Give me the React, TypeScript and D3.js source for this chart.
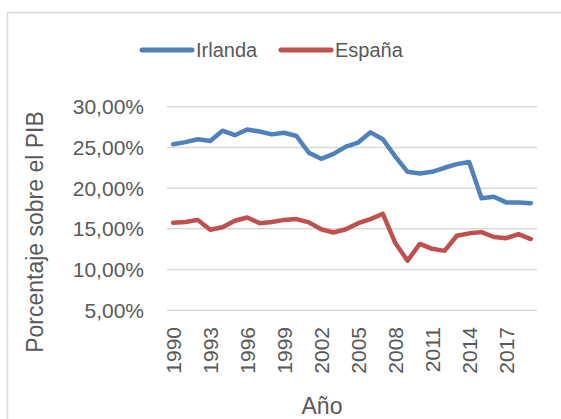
import React from 'react';
import { scaleBand, scaleLinear, line } from 'd3';

const years = [
  1990, 1991, 1992, 1993, 1994, 1995, 1996, 1997, 1998, 1999,
  2000, 2001, 2002, 2003, 2004, 2005, 2006, 2007, 2008, 2009,
  2010, 2011, 2012, 2013, 2014, 2015, 2016, 2017, 2018, 2019,
];
const irlanda = [
  25.4, 25.65, 26.0, 25.8, 27.05, 26.5, 27.2, 26.95, 26.6, 26.8,
  26.4, 24.35, 23.6, 24.2, 25.1, 25.6, 26.85, 26.0, 23.9, 22.0,
  21.8, 22.0, 22.5, 22.95, 23.2, 18.75, 18.95, 18.25, 18.25, 18.15,
];
const espana = [
  15.75, 15.85, 16.1, 14.9, 15.2, 16.0, 16.4, 15.7, 15.85, 16.1,
  16.2, 15.8, 14.95, 14.55, 14.95, 15.7, 16.2, 16.85, 13.3, 11.1,
  13.15, 12.55, 12.3, 14.15, 14.45, 14.6, 14.0, 13.85, 14.35, 13.75,
];
const yTicks = [5, 10, 15, 20, 25, 30];
const xTickYears = [1990, 1993, 1996, 1999, 2002, 2005, 2008, 2011, 2014, 2017];

const series = [
  { name: 'Irlanda', values: irlanda, color: '#4F81BD' },
  { name: 'España', values: espana, color: '#C0504D' },
];

const width = 561;
const height = 419;
const plot = { left: 167, right: 537, top: 106.7, bottom: 310.3 };
const font = '"Liberation Sans", Arial, sans-serif';
const textColor = '#595959';

const fmt = (v: number) => v.toFixed(2).replace('.', ',') + '%';

export default function App() {
  const x = scaleBand<number>().domain(years).range([plot.left, plot.right]).padding(0);
  const y = scaleLinear().domain([5, 30]).range([plot.bottom, plot.top]);
  const cx = (yr: number) => (x(yr) as number) + x.bandwidth() / 2;

  const path = line<number>()
    .x((d, i) => cx(years[i]))
    .y((d) => y(d));

  // legend
  const legendX = [142, 281];

  return (
    <svg width={width} height={height} style={{ position: 'absolute', left: 0, top: 0, background: '#fff' }}>
      <rect x={7.5} y={12.5} width={width} height={height} fill="#fff" stroke="#D9D9D9" strokeWidth={1.5} />

      {/* gridlines */}
      {yTicks.map((t) => (
        <line key={t} x1={plot.left} x2={plot.right} y1={y(t)} y2={y(t)} stroke="#D9D9D9" strokeWidth={1.5} />
      ))}

      {/* y tick labels */}
      {yTicks.map((t) => (
        <text key={t} x={144} y={y(t)} dy="0.36em" textAnchor="end" fontFamily={font} fontSize={21} fill={textColor}>
          {fmt(t)}
        </text>
      ))}

      {/* x tick labels */}
      {xTickYears.map((yr) => (
        <text
          key={yr}
          transform={`translate(${cx(yr) + 7.5},${327}) rotate(-90)`}
          textAnchor="end"
          fontFamily={font}
          fontSize={21}
          fill={textColor}
        >
          {yr}
        </text>
      ))}

      {/* series */}
      {series.map((s) => (
        <path key={s.name} d={path(s.values) as string} fill="none" stroke={s.color} strokeWidth={4.5} strokeLinejoin="round" strokeLinecap="round" />
      ))}

      {/* legend */}
      {series.map((s, i) => (
        <g key={s.name}>
          <line x1={legendX[i]} x2={legendX[i] + 50} y1={50} y2={50} stroke={s.color} strokeWidth={5} strokeLinecap="round" />
          <text x={legendX[i] + 54} y={50} dy="0.36em" fontFamily={font} fontSize={20} fill={textColor}>
            {s.name}
          </text>
        </g>
      ))}

      {/* axis titles */}
      <text transform={`translate(43,232) rotate(-90)`} textAnchor="middle" fontFamily={font} fontSize={23} fill={textColor}>
        Porcentaje sobre el PIB
      </text>
      <text x={322} y={414} textAnchor="middle" fontFamily={font} fontSize={23} fill={textColor}>
        Año
      </text>
    </svg>
  );
}
